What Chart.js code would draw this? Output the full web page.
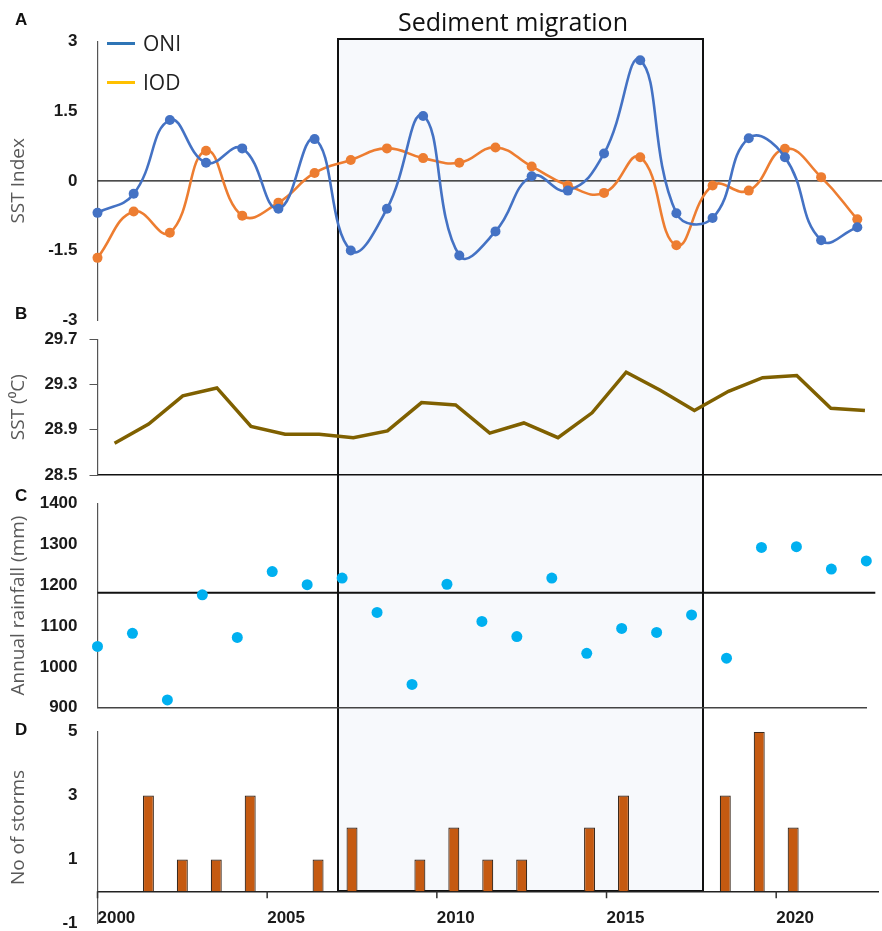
<!DOCTYPE html>
<html>
<head>
<meta charset="utf-8">
<title>ENSO / IOD, SST, rainfall and storms</title>
<script src="https://cdn.jsdelivr.net/npm/chart.js@4.4.1/dist/chart.umd.min.js"></script>
<style>
    body { margin: 0; background: #fff; overflow: hidden; }
    #wrap { position: relative; width: 882px; height: 931px; overflow: hidden; font-family: 'Open Sans', 'Noto Sans', sans-serif; }
    canvas { position: absolute; left: 0; z-index: 1; }
    #migrationBox { position: absolute; left: 336.5px; top: 37.5px; width: 367px; height: 854px; box-sizing: border-box; border: 2px solid #111; background: #f7f9fc; z-index: 0; }
    #migrationTitle { position: absolute; left: 380px; width: 266px; top: 6px; text-align: center; font-size: 25px; line-height: 30px; color: #111; z-index: 2; }
    .panel-letter { position: absolute; font-family: 'Liberation Sans', Arial, sans-serif; font-weight: bold; font-size: 17px; color: #111; z-index: 2; }
    .legend-item { position: absolute; left: 107px; z-index: 2; font-size: 21px; color: #222; line-height: 26px; }
    .legend-item span { display: inline-block; width: 28px; height: 3px; vertical-align: middle; margin-right: 8px; position: relative; top: -2px; }
</style>
</head>
<body>
<div id="wrap">
    <div id="migrationBox"></div>
    <div id="migrationTitle">Sediment migration</div>

    <div class="panel-letter" style="left:15px; top:10px;">A</div>
    <div class="panel-letter" style="left:15px; top:304px;">B</div>
    <div class="panel-letter" style="left:15px; top:486px;">C</div>
    <div class="panel-letter" style="left:15px; top:720px;">D</div>

    <div class="legend-item" style="top:30px;"><span style="background:#2E75B6;"></span>ONI</div>
    <div class="legend-item" style="top:69px;"><span style="background:#FFC000;"></span>IOD</div>

    <canvas id="indexChart" width="882" height="352" style="top:0px;"></canvas>
    <canvas id="sstChart" width="882" height="200" style="top:307px;"></canvas>
    <canvas id="rainChart" width="882" height="269" style="top:471px;"></canvas>
    <canvas id="stormChart" width="882" height="256" style="top:699px;"></canvas>
</div>

<script>
// Panel A - SST indices
const indexYears = [2000, 2001, 2002, 2003, 2004, 2005, 2006, 2007, 2008, 2009, 2010,
                    2011, 2012, 2013, 2014, 2015, 2016, 2017, 2018, 2019, 2020, 2021];
const oniValues = [-0.69, -0.28, 1.31, 0.39, 0.70, -0.60, 0.90, -1.50, -0.60, 1.40, -1.61,
                   -1.09, 0.10, -0.21, 0.59, 2.60, -0.70, -0.80, 0.92, 0.51, -1.28, -1.00];
const iodValues = [-1.66, -0.66, -1.12, 0.65, -0.75, -0.47, 0.17, 0.45, 0.70, 0.49, 0.39,
                   0.72, 0.31, -0.10, -0.26, 0.51, -1.39, -0.10, -0.21, 0.69, 0.08, -0.83];
const indexTicks = [-3, -1.5, 0, 1.5, 3];

// Panel B - sea surface temperature
const sstYears = [2000, 2001, 2002, 2003, 2004, 2005, 2006, 2007, 2008, 2009, 2010, 2011,
                  2012, 2013, 2014, 2015, 2016, 2017, 2018, 2019, 2020, 2021, 2022];
const sstValues = [28.78, 28.95, 29.20, 29.27, 28.93, 28.86, 28.86, 28.83, 28.89, 29.14, 29.12, 28.87,
                   28.96, 28.83, 29.05, 29.41, 29.25, 29.07, 29.24, 29.36, 29.38, 29.09, 29.07];
const sstTicks = [28.5, 28.9, 29.3, 29.7];

// Panel C - annual rainfall
const rainYears = [2000, 2001, 2002, 2003, 2004, 2005, 2006, 2007, 2008, 2009, 2010, 2011,
                   2012, 2013, 2014, 2015, 2016, 2017, 2018, 2019, 2020, 2021, 2022];
const rainValues = [1050, 1082, 919, 1176, 1072, 1233, 1201, 1217, 1133, 957, 1202, 1111,
                    1074, 1217, 1033, 1094, 1084, 1127, 1021, 1292, 1294, 1239, 1259];
const rainMean = 1181;
const rainTicks = [900, 1000, 1100, 1200, 1300, 1400];

// Panel D - number of storms
const stormYears = [2000, 2001, 2002, 2003, 2004, 2005, 2006, 2007, 2008, 2009, 2010, 2011,
                    2012, 2013, 2014, 2015, 2016, 2017, 2018, 2019, 2020, 2021, 2022];
const stormCounts = [0, 3, 1, 1, 3, 0, 1, 2, 0, 1, 2, 1,
                     1, 0, 2, 3, 0, 0, 3, 5, 2, 0, 0];
const stormTicks = [-1, 1, 3, 5];
const yearTicks = [2000, 2005, 2010, 2015, 2020];

Chart.defaults.animation = false;
Chart.defaults.responsive = false;
Chart.defaults.plugins.legend.display = false;
Chart.defaults.plugins.tooltip.enabled = false;

const AXIS_WIDTH = 97.5;
const tickFont = { family: "'Liberation Sans', Arial, sans-serif", size: 17, weight: 'bold' };
const titleFont = { family: "'Open Sans', 'Noto Sans', sans-serif", size: 19 };

// y axis shared by all panels, fixed width so the plot areas line up
function yAxis(ticks, title, withMarks) {
    return {
        min: ticks[0],
        max: ticks[ticks.length - 1],
        afterFit: (scale) => { scale.width = AXIS_WIDTH; },
        afterBuildTicks: (scale) => { scale.ticks = ticks.map(v => ({ value: v })); },
        ticks: { font: tickFont, color: '#1a1a1a', padding: withMarks ? 12 : 20, callback: (v) => String(v) },
        grid: { drawOnChartArea: false, drawTicks: withMarks, tickLength: 8, tickColor: '#555' },
        border: { display: true, color: '#555', width: 1.2 },
        title: { display: true, text: title, font: titleFont, color: '#595959', padding: { top: 7 } }
    };
}

// horizontal reference line drawn through the y scale
const refLine = {
    id: 'refLine',
    beforeDatasetsDraw(chart, args, opts) {
        const { ctx, chartArea } = chart;
        const y = chart.scales.y.getPixelForValue(opts.value);
        ctx.save();
        ctx.strokeStyle = opts.color;
        ctx.lineWidth = opts.width;
        ctx.beginPath();
        ctx.moveTo(chartArea.left, y);
        ctx.lineTo(chartArea.right + opts.extend, y);
        ctx.stroke();
        ctx.restore();
    }
};

// small downward tick marks on the year axis of panel D
const yearMarks = {
    id: 'yearMarks',
    afterDraw(chart, args, opts) {
        const { ctx } = chart;
        const xs = chart.scales.year;
        const y0 = chart.scales.y.getPixelForValue(0);
        ctx.save();
        ctx.strokeStyle = opts.color;
        ctx.lineWidth = 1.5;
        ctx.beginPath();
        yearTicks.forEach(v => {
            const x = xs.getPixelForValue(v);
            ctx.moveTo(x, y0);
            ctx.lineTo(x, y0 + opts.length);
        });
        ctx.stroke();
        ctx.restore();
    }
};

// Panel A
new Chart(document.getElementById('indexChart'), {
    type: 'line',
    data: {
        labels: indexYears,
        datasets: [
            {
                label: 'ONI',
                data: oniValues,
                borderColor: '#4472C4',
                backgroundColor: '#4472C4',
                borderWidth: 2.6,
                pointRadius: 5,
                pointBorderWidth: 0,
                tension: 0.45,
                clip: false
            },
            {
                label: 'IOD',
                data: iodValues,
                borderColor: '#ED7D31',
                backgroundColor: '#ED7D31',
                borderWidth: 2.6,
                pointRadius: 5,
                pointBorderWidth: 0,
                tension: 0.45,
                clip: false
            }
        ]
    },
    options: {
        layout: { padding: { top: 41.7, bottom: 32, right: 24.7, left: 0 } },
        plugins: { refLine: { value: 0, color: '#111', width: 1.2, extend: 30 } },
        scales: {
            x: { display: false },
            y: yAxis(indexTicks, 'SST Index', false)
        }
    },
    plugins: [refLine]
});

// Panel B
new Chart(document.getElementById('sstChart'), {
    type: 'line',
    data: {
        labels: sstYears,
        datasets: [{
            label: 'SST',
            data: sstValues,
            borderColor: '#7F6000',
            borderWidth: 3.5,
            pointRadius: 0,
            tension: 0
        }]
    },
    options: {
        layout: { padding: { top: 32.3, bottom: 32, right: 0, left: 0 } },
        scales: {
            x: {
                offset: true,
                afterFit: (scale) => { scale.height = 0; },
                ticks: { display: false },
                grid: { drawOnChartArea: false, drawTicks: false },
                border: { display: true, color: '#111', width: 1.5 }
            },
            y: yAxis(sstTicks, 'SST (⁰C)', true)
        }
    }
});

// Panel C
new Chart(document.getElementById('rainChart'), {
    type: 'scatter',
    data: {
        datasets: [{
            label: 'Annual rainfall',
            data: rainValues.map((v, i) => ({ x: i, y: v })),
            backgroundColor: '#00B0F0',
            borderWidth: 0,
            pointRadius: 5.5,
            clip: false
        }]
    },
    options: {
        layout: { padding: { top: 32.3, bottom: 32.3, right: 15.7, left: 0 } },
        plugins: { refLine: { value: rainMean, color: '#111', width: 2, extend: 9 } },
        scales: {
            x: {
                type: 'linear',
                min: 0,
                max: rainYears.length - 1,
                afterFit: (scale) => { scale.height = 0; },
                ticks: { display: false },
                grid: { drawOnChartArea: false, drawTicks: false },
                border: { display: true, color: '#444', width: 1.5 }
            },
            y: yAxis(rainTicks, 'Annual rainfall (mm)', false)
        }
    },
    plugins: [refLine]
});

// Panel D
new Chart(document.getElementById('stormChart'), {
    type: 'bar',
    data: {
        labels: stormYears,
        datasets: [{
            label: 'No of storms',
            data: stormCounts,
            backgroundColor: '#C55A11',
            borderColor: '#3b2a1e',
            borderWidth: 1.2,
            barPercentage: 0.9,
            categoryPercentage: 0.36
        }]
    },
    options: {
        layout: { padding: { top: 32.7, bottom: 31.7, right: 4, left: 0 } },
        plugins: { yearMarks: { color: '#333', length: 7 } },
        scales: {
            x: { display: false },
            year: {
                type: 'linear',
                axis: 'x',
                position: { y: 0 },
                offset: false,
                min: stormYears[0],
                max: stormYears[stormYears.length - 1] + 1,
                afterBuildTicks: (scale) => { scale.ticks = yearTicks.map(v => ({ value: v })); },
                ticks: { font: tickFont, color: '#1a1a1a', align: 'start', padding: 17, callback: (v) => String(v) },
                grid: { offset: false, display: false, drawTicks: false },
                border: { display: true, color: '#222', width: 1.6 }
            },
            y: yAxis(stormTicks, 'No of storms', false)
        }
    },
    plugins: [yearMarks]
});
</script>
</body>
</html>
